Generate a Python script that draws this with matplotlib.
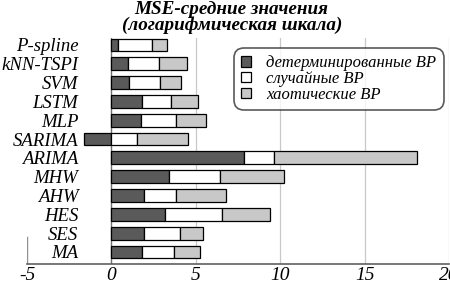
import matplotlib.pyplot as plt
import numpy as np

plt.rcParams.update({
    "font.family": "Liberation Serif",
    "font.style": "italic",
    "axes.unicode_minus": False,
})

# ── Data ──────────────────────────────────
methods = ["MA", "SES", "HES", "AHW", "MHW", "ARIMA", "SARIMA",
           "MLP", "LSTM", "SVM", "kNN-TSPI", "P-spline"]
determ = [1.83, 1.95, 3.2, 1.91, 3.41, 7.84, -1.6, 1.78, 1.83, 1.07, 1.0, 0.41]
random_ = [1.9, 2.11, 3.37, 1.91, 3.0, 1.8, 1.54, 2.07, 1.72, 1.83, 1.8, 2.0]
chaotic = [1.51, 1.38, 2.83, 2.96, 3.84, 8.45, 3.0, 1.75, 1.6, 1.24, 1.7, 0.9]
labels = ["детерминированные ВР", "случайные ВР", "хаотические ВР"]
xticks = [-5, 0, 5, 10, 15, 20]

determ = np.array(determ)
random_ = np.array(random_)
chaotic = np.array(chaotic)
y = np.arange(len(methods))

# ── Plot ──────────────────────────────────
fig = plt.figure(figsize=(4.5, 2.84), dpi=100)
ax = fig.add_axes([27 / 450, 1 - 264 / 284, 422 / 450, 226 / 284])

h = 0.68
kw = dict(height=h, edgecolor="black", linewidth=0.9, zorder=3)
ax.barh(y, determ, color="#5a5a5a", label=labels[0], **kw)
# white / chaotic parts start at 0 when the dark bar is negative
left_w = np.where(determ > 0, determ, 0)
ax.barh(y, random_, left=left_w, color="white", label=labels[1], **kw)
ax.barh(y, chaotic, left=left_w + random_, color="#c8c8c8", label=labels[2], **kw)

for xt in [5, 10, 15, 20]:
    ax.axvline(xt, color="#c8c8c8", linewidth=0.9, zorder=1)
ax.axvline(0, color="#707070", linewidth=1.0, zorder=2)
ax.axvline(-5, ymax=0.12, color="#909090", linewidth=1.0, zorder=1)

ax.set_xlim(-5, 20)
ax.set_ylim(-0.64, 11.37)
ax.set_xticks(xticks)
ax.set_yticks(y)
ax.set_yticklabels(methods)
ax.tick_params(axis="x", length=0, labelsize=14, pad=2.5)
ax.tick_params(axis="y", length=0, labelsize=13.5, pad=-37)
for t in ax.get_yticklabels():
    t.set_zorder(5)

for s in ["top", "right", "left"]:
    ax.spines[s].set_visible(False)
ax.spines["bottom"].set_color("#606060")
ax.spines["bottom"].set_linewidth(1.2)

leg = ax.legend(loc="upper right", bbox_to_anchor=(0.99, 0.96),
                fontsize=12, frameon=True, fancybox=True,
                edgecolor="#303030", handlelength=0.6, handleheight=0.6,
                handletextpad=0.9, borderpad=0.3, labelspacing=-0.02,
                borderaxespad=0.2)
leg.get_frame().set_linewidth(1.2)
leg.get_frame().set_boxstyle("round,pad=0.15,rounding_size=0.6")

fig.text(0.515, 0.995, "MSE-средние значения\n(логарифмическая шкала)",
         ha="center", va="top", fontsize=13.8, fontweight="bold",
         linespacing=0.88)

fig.savefig("out.png", dpi=100)
